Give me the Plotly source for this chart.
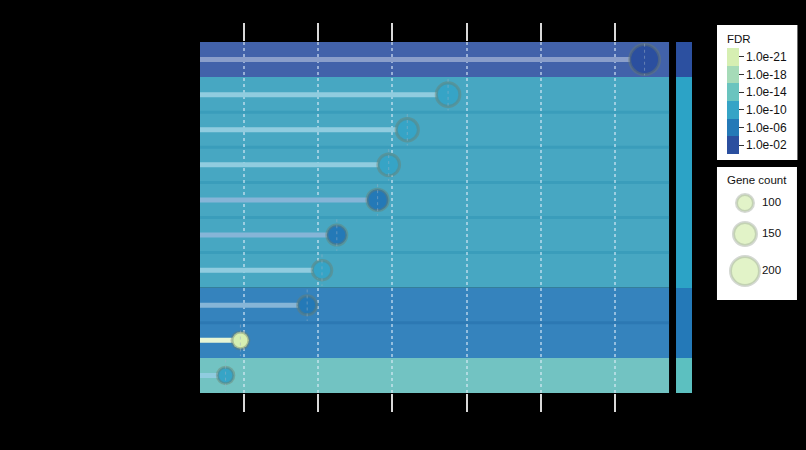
import plotly.graph_objects as go
import numpy as np

# rows, top to bottom
ranks = [1, 2, 3, 4, 5, 6, 7, 8, 9, 10]
gene_count = [208, 155, 144, 139, 136, 125, 121, 117, 99, 95]
fdr = [2.5e-03, 3.1e-11, 8.4e-11, 1.2e-10, 4.6e-07, 2.2e-07, 5.3e-09, 7.7e-07, 3.4e-22, 6.1e-09]
group = [0, 1, 1, 1, 1, 1, 1, 2, 2, 3]

# legends
fdr_labels = ['1.0e-02', '1.0e-06', '1.0e-10', '1.0e-14', '1.0e-18', '1.0e-21']
size_legend = [100, 150, 200]
x_ticks = [100, 120, 140, 160, 180, 200]

'''
Styles
'''
FDR_COLORS = ['#2b4f9f', '#2479b7', '#36a4c6', '#6ac4bf', '#a6dbb8', '#d6efb2']
BAND_COLORS = ['#4262aa', '#47a7c2', '#3583bd', '#72c3c2']
SEP_COLORS = ['#3a58a0', '#3a9dbb', '#2c78b3', '#63b8b8']
STRIP_COLORS = ['#2c50a0', '#2ca3c6', '#2479b8', '#5cc0c0']
FONT = 'Liberation Sans, Arial, sans-serif'
RING = dict(color='rgba(110,125,105,0.42)', width=3)


def marker_size(n):
    return 5 + 0.12 * np.asarray(n, dtype=float)


def lighten(hexc, f=0.45):
    r, g, b = (int(hexc[i:i + 2], 16) for i in (1, 3, 5))
    return 'rgb({},{},{})'.format(*[int(v + (255 - v) * f) for v in (r, g, b)])


def discrete_scale(colors):
    n = len(colors)
    sc = []
    for i, c in enumerate(colors):
        sc += [[i / n, c], [(i + 1) / n, c]]
    return sc


# FDR -> bin index (0 = 1e-02 ... 5 = 1e-21)
bins = np.digitize(-np.log10(fdr), [4, 8, 12, 16, 19.5])
row_colors = [FDR_COLORS[b] for b in bins]

fig = go.Figure()

# stems
for r, n, c in zip(ranks, gene_count, row_colors):
    fig.add_trace(go.Scatter(
            x=[0, n], y=[r, r], mode='lines',
            line=dict(color=lighten(c), width=5),
            hoverinfo='skip', showlegend=False))

# dots
fig.add_trace(go.Scatter(
        x=gene_count, y=ranks, mode='markers',
        marker=dict(
                size=marker_size(gene_count),
                color=bins + 0.5,
                colorscale=discrete_scale(FDR_COLORS),
                cmin=0, cmax=6,
                line=RING,
                opacity=1,
                colorbar=dict(
                        title=dict(text='FDR', side='top',
                                   font=dict(size=11.5, color='#111', family=FONT)),
                        tickvals=[i + 0.5 for i in range(6)],
                        ticktext=fdr_labels,
                        ticks='outside', ticklen=5, tickwidth=1, tickcolor='#333',
                        tickfont=dict(size=12, color='#111', family=FONT),
                        thickness=12,
                        lenmode='pixels', len=135,
                        x=0.8531, xanchor='left', xpad=10,
                        y=1.0484, yanchor='top', ypad=6,
                        bgcolor='white', outlinewidth=0,
                        )),
        showlegend=False,
        hovertext=[f'{n} genes<br>FDR {f:.1e}' for n, f in zip(gene_count, fdr)],
        hoverinfo='text'))

# center dotted marks
cx, cy = [], []
for r, n in zip(ranks, gene_count):
    cx += [n, n, None]
    cy += [r - 0.45, r + 0.45, None]
fig.add_trace(go.Scatter(
        x=cx, y=cy, mode='lines',
        line=dict(color='rgba(160,180,200,0.5)', width=1, dash='dot'),
        hoverinfo='skip', showlegend=False))

# group strip
fig.add_trace(go.Heatmap(
        z=[[g] for g in group], x=[0], y=ranks,
        colorscale=discrete_scale(STRIP_COLORS), zmin=-0.5, zmax=3.5,
        showscale=False, hoverinfo='skip',
        xaxis='x3', yaxis='y'))

# gene count legend
leg_sizes = marker_size(size_legend)
vis = leg_sizes + RING['width']
gap = 8
leg_y = 26 + np.cumsum(vis + gap) - gap - vis / 2
fig.add_trace(go.Scatter(
        x=[28] * len(size_legend), y=leg_y, mode='markers',
        marker=dict(size=leg_sizes, color=FDR_COLORS[-1], line=RING),
        cliponaxis=False,
        hoverinfo='skip', showlegend=False,
        xaxis='x4', yaxis='y4'))
fig.add_trace(go.Scatter(
        x=[45] * len(size_legend), y=leg_y, mode='text',
        text=[str(s) for s in size_legend], textposition='middle right',
        textfont=dict(size=11.5, color='#111', family=FONT),
        cliponaxis=False,
        hoverinfo='skip', showlegend=False,
        xaxis='x4', yaxis='y4'))

'''
Background bands
'''
rects, seps = [], []
start = 0
for i in range(1, len(group) + 1):
    if i == len(group) or group[i] != group[start]:
        rects.append(dict(type='rect', xref='x domain', yref='y',
                          x0=0, x1=1, y0=ranks[start] - 0.5, y1=ranks[i - 1] + 0.5,
                          fillcolor=BAND_COLORS[group[start]], line=dict(width=0),
                          layer='below'))
        start = i
    else:
        seps.append(dict(type='line', xref='x domain', yref='y',
                         x0=0, x1=1, y0=ranks[i] - 0.5, y1=ranks[i] - 0.5,
                         line=dict(color=SEP_COLORS[group[i]], width=3),
                         layer='below'))

box = dict(type='rect', xref='x4 domain', yref='y4 domain',
           x0=0, x1=1, y0=0, y1=1, fillcolor='white',
           line=dict(width=0), layer='below')

fig.update_layout(
        width=806, height=450,
        margin=dict(l=200, r=0, t=42, b=57),
        paper_bgcolor='black', plot_bgcolor='black',
        font=dict(family=FONT),
        shapes=rects + seps + [box],
        annotations=[dict(text='Gene count', xref='x4', yref='y4', x=40, y=13,
                          showarrow=False, font=dict(size=11.5, color='#111', family=FONT))],
        xaxis=dict(
                domain=[0, 0.774],
                range=[88.1, 214.6],
                tickvals=x_ticks,
                showticklabels=False,
                showgrid=True, gridcolor='rgba(225,238,252,0.55)', gridwidth=2, griddash='dot',
                ticks='outside', ticklen=18, tickwidth=2, tickcolor='#d8d8d8',
                mirror='ticks', showline=False, zeroline=False,
                ),
        yaxis=dict(
                range=[10.5, 0.5],
                showticklabels=False, showgrid=False, zeroline=False,
                ),
        xaxis3=dict(domain=[0.7855, 0.8119], anchor='y', visible=False, range=[-0.5, 0.5]),
        xaxis4=dict(domain=[0.8531, 0.9851], anchor='y4', visible=False, range=[0, 80]),
        yaxis4=dict(domain=[0.265, 0.644], anchor='x4', visible=False, range=[133, 0]),
        )

fig.write_html('out.html', config=dict(displayModeBar=False),
               post_script="document.body.style.margin='0';document.body.style.background='black';")
